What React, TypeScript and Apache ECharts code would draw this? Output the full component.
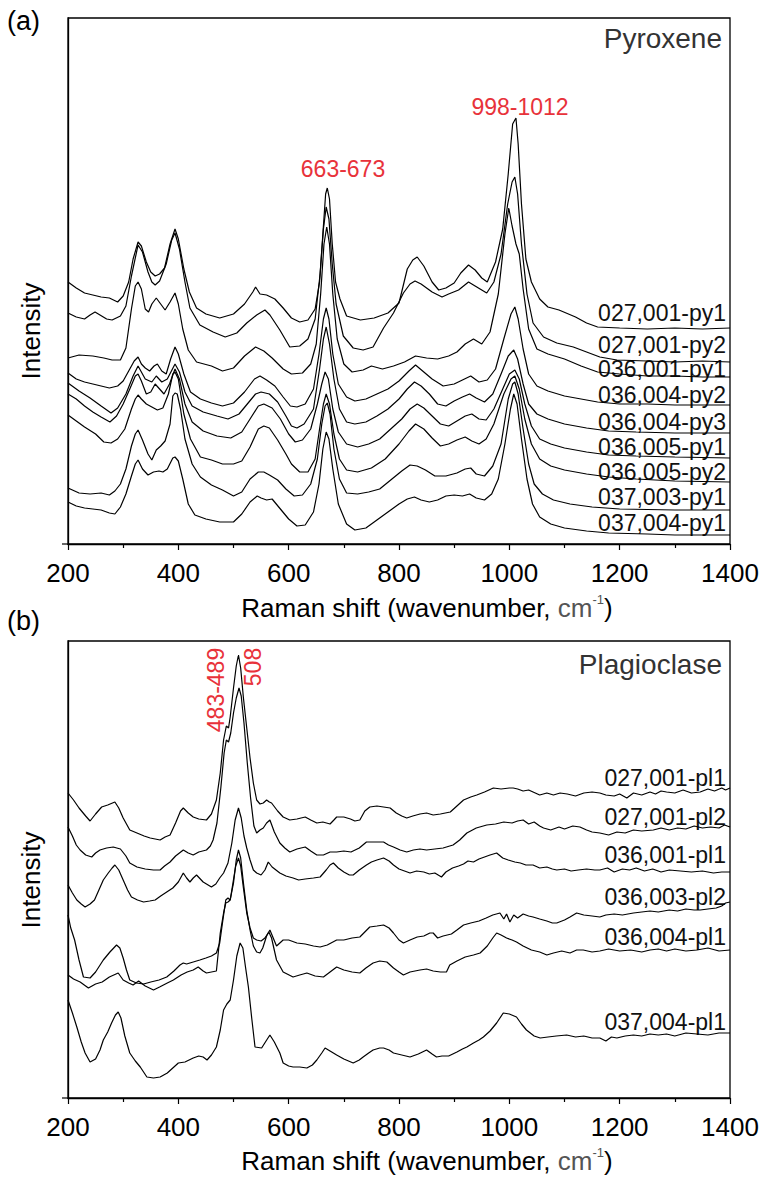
import React, { useEffect, useRef } from "react";
import * as echarts from "echarts";

// ---------- x axis ----------
const X_MIN = 200;
const X_MAX = 1400;
const X_STEP = 200;

// ---------- Pyroxene spectra (Raman shift, offset intensity) ----------
const py_027_001_py1 = [[200,262],[215,256],[230,251],[245,249],[260,247],[275,246],[290,242],[300,248],[310,262],[318,285],[327,302],[333,298],[342,282],[350,272],[358,268],[366,270],[375,276],[385,300],[394,315],[400,305],[410,275],[420,252],[433,236],[450,230],[475,226],[500,230],[520,240],[535,252],[540,257],[548,250],[560,249],[575,245],[590,236],[605,226],[620,222],[635,224],[648,235],[656,262],[662,310],[667,350],[670,356],[674,345],[679,300],[685,262],[693,245],[705,228],[730,224],[755,226],[780,231],[800,241],[815,275],[825,284],[833,287],[845,278],[860,262],[872,254],[885,256],[900,261],[912,271],[926,279],[938,274],[950,266],[960,262],[975,282],[988,315],[998,370],[1006,420],[1012,426],[1016,400],[1022,340],[1030,285],[1040,262],[1055,245],[1070,237],[1090,234],[1120,227],[1140,221],[1160,217],[1200,216],[1250,215],[1300,216],[1350,215],[1400,216]];
const py_027_001_py2 = [[200,231],[215,227],[230,225],[240,229],[249,232],[258,229],[270,225],[280,224],[295,228],[305,238],[315,268],[327,299],[335,292],[345,272],[352,262],[358,259],[366,263],[378,280],[388,304],[394,311],[402,295],[412,262],[421,236],[439,219],[463,212],[485,207],[506,211],[524,221],[542,229],[557,234],[566,229],[584,214],[602,197],[620,198],[635,205],[648,225],[657,270],[663,315],[668,337],[673,325],[679,280],[686,240],[699,208],[717,196],[735,194],[753,197],[772,216],[790,231],[808,251],[820,260],[829,263],[840,260],[860,252],[878,247],[890,250],[908,254],[926,262],[941,257],[959,251],[972,262],[985,290],[997,340],[1005,362],[1010,367],[1015,350],[1022,300],[1032,250],[1043,221],[1062,207],[1086,201],[1116,197],[1140,192],[1164,187],[1195,184],[1250,183],[1300,182],[1350,183],[1400,182]];
const py_036_001_py1 = [[200,186],[220,189],[245,188],[265,186],[280,184],[295,184],[305,196],[315,235],[322,258],[327,262],[333,255],[340,235],[346,232],[352,240],[360,246],[368,240],[376,234],[385,242],[394,251],[400,240],[408,215],[418,194],[433,182],[460,178],[480,173],[500,176],[520,188],[540,197],[555,193],[570,186],[590,175],[605,170],[625,171],[640,180],[650,200],[658,250],[664,300],[669,317],[674,300],[680,250],[688,205],[700,180],[715,172],[735,174],[750,178],[770,175],[790,178],[810,182],[830,188],[850,186],[870,185],[890,188],[905,192],[920,200],[935,205],[950,200],[965,212],[980,250],[992,310],[999,336],[1005,318],[1012,300],[1018,290],[1025,255],[1035,215],[1050,195],[1070,190],[1100,185],[1130,178],[1160,172],[1200,170],[1250,168],[1300,168],[1350,167],[1400,167]];
const py_036_004_py2 = [[200,171],[215,165],[230,162],[245,160],[260,158],[275,156],[290,158],[300,163],[312,175],[320,183],[327,187],[333,180],[340,176],[348,173],[356,178],[362,180],[370,173],[378,170],[386,185],[394,197],[400,190],[410,170],[422,152],[440,145],[460,141],[480,138],[500,141],[520,152],[538,165],[548,168],[560,164],[575,158],[590,147],[603,138],[615,137],[630,140],[645,155],[655,190],[663,225],[668,236],[673,225],[680,190],[690,160],[705,147],[720,143],[740,145],[760,150],[780,155],[800,163],[818,173],[830,179],[845,172],[860,165],[880,158],[900,160],[915,164],[930,168],[945,162],[960,164],[975,175],[990,205],[1003,230],[1010,237],[1016,225],[1025,195],[1035,170],[1050,158],[1070,153],[1100,148],[1130,145],[1160,142],[1200,140],[1250,140],[1300,139],[1350,139],[1400,139]];
const py_036_004_py3 = [[200,161],[220,153],[240,146],[260,138],[278,131],[290,136],[305,150],[318,168],[327,178],[340,165],[352,162],[360,168],[370,162],[380,165],[394,180],[402,172],[412,152],[425,138],[445,132],[470,128],[490,125],[510,130],[525,140],[540,150],[550,152],[565,150],[580,142],[595,128],[605,118],[615,116],[628,120],[645,135],[656,175],[663,205],[668,217],[674,200],[682,165],[692,135],[705,122],[720,120],[740,122],[760,128],[780,135],[800,145],[815,155],[828,162],[840,158],[855,150],[870,140],[885,138],[900,143],[915,147],[928,150],[940,146],[955,142],[970,150],[985,170],[998,188],[1008,194],[1015,185],[1025,160],[1035,140],[1050,130],[1070,125],[1100,120],[1140,116],[1180,113],[1230,112],[1300,111],[1350,111],[1400,111]];
const py_036_005_py1 = [[200,150],[215,145],[230,138],[245,132],[260,127],[276,122],[288,128],[300,140],[312,155],[322,168],[327,170],[333,163],[342,150],[350,152],[358,160],[366,155],[374,150],[384,160],[394,175],[402,165],[412,140],[425,122],[445,113],[470,108],[495,106],[515,112],[530,125],[545,138],[555,140],[570,136],[585,125],[600,110],[612,102],[625,104],[640,115],[652,140],[660,160],[666,172],[672,165],[680,135],[690,112],[705,100],[725,97],[745,100],[765,105],[785,115],[805,125],[820,135],[833,140],[845,136],[860,128],[875,120],[890,118],[905,123],[920,128],[932,130],[945,125],[958,124],[972,135],[988,155],[1000,170],[1010,174],[1018,165],[1028,140],[1040,118],[1055,105],[1075,100],[1100,96],[1140,92],[1180,89],[1230,88],[1300,87],[1400,86]];
const py_036_005_py2 = [[200,129],[215,123],[230,117],[250,110],[265,102],[278,101],[290,105],[303,115],[315,135],[322,145],[327,149],[333,145],[342,140],[352,137],[362,134],[372,136],[382,150],[390,170],[394,172],[400,165],[410,130],[422,105],[440,87],[460,84],[480,80],[500,80],[515,83],[530,97],[545,115],[555,118],[565,116],[580,104],[595,90],[605,80],[620,72],[635,72],[648,85],[656,115],[663,140],[668,150],[674,140],[682,110],[692,85],[705,74],[725,72],[750,76],[775,85],[800,100],[818,113],[830,120],[845,115],[860,106],[875,98],[890,100],[905,104],[920,107],[932,103],[945,100],[958,105],[972,120],[990,150],[1003,165],[1010,168],[1018,155],[1028,125],[1040,100],[1055,85],[1075,78],[1100,74],[1140,70],[1180,67],[1230,65],[1300,63],[1400,62]];
const py_037_003_py1 = [[200,56],[220,51],[240,50],[260,51],[275,49],[285,53],[295,60],[305,75],[315,98],[322,110],[327,114],[335,104],[345,90],[352,84],[360,94],[368,98],[376,103],[385,120],[390,148],[394,151],[398,150],[404,135],[412,105],[425,80],[440,67],[460,59],[480,54],[500,48],[515,52],[530,65],[545,72],[555,72],[565,69],[580,64],[595,55],[610,48],[625,49],[640,60],[652,85],[660,120],[666,138],[670,141],[675,130],[682,95],[692,65],[705,51],[725,50],[745,52],[765,55],[785,64],[805,73],[820,79],[833,78],[848,74],[865,68],[885,68],[905,71],[920,75],[930,76],[940,70],[955,68],[970,78],[985,100],[998,145],[1006,160],[1010,162],[1016,150],[1025,115],[1035,80],[1045,60],[1060,50],[1080,44],[1110,40],[1150,37],[1200,35],[1300,34],[1400,34]];
const py_037_004_py1 = [[200,42],[215,38],[230,36],[245,35],[260,34],[275,31],[285,30],[295,37],[305,50],[315,68],[322,80],[327,84],[335,75],[345,69],[355,72],[365,73],[372,72],[380,75],[390,86],[394,87],[400,83],[408,65],[418,40],[430,29],[450,25],[475,22],[500,22],[515,30],[530,42],[543,48],[550,46],[560,44],[570,45],[585,35],[600,25],[615,18],[630,19],[645,32],[655,60],[662,95],[668,112],[673,105],[680,75],[690,40],[705,20],[720,14],[740,16],[760,24],[780,32],[800,40],[815,45],[828,47],[840,44],[855,42],[870,44],[885,48],[900,49],[915,48],[928,50],[940,46],[955,44],[968,50],[980,65],[992,100],[1002,135],[1008,150],[1014,140],[1022,105],[1032,65],[1042,40],[1055,27],[1075,20],[1100,16],[1140,13],[1180,11],[1250,10],[1300,9],[1400,9]];

// ---------- Plagioclase spectra ----------
const pl_027_001_pl1 = [[200,305],[210,298],[220,290],[232,282],[240,277],[250,284],[261,291],[272,293],[285,296],[292,290],[300,280],[312,268],[325,265],[338,262],[349,260],[358,259],[367,258],[376,261],[385,263],[395,275],[404,287],[409,290],[418,285],[427,281],[437,279],[451,278],[460,284],[469,298],[476,325],[482,358],[487,372],[491,370],[494,381],[500,410],[505,432],[509,443],[513,430],[518,400],[524,370],[530,340],[536,315],[542,298],[548,294],[554,295],[560,298],[565,296],[569,295],[580,287],[590,281],[602,278],[615,279],[630,281],[640,278],[651,275],[662,276],[675,274],[682,278],[687,281],[700,281],[712,279],[720,277],[729,278],[738,287],[747,291],[760,292],[772,291],[784,290],[795,285],[805,282],[814,280],[825,282],[838,284],[850,285],[862,283],[875,284],[893,286],[905,292],[917,298],[930,301],[941,303],[955,306],[971,310],[985,309],[1000,310],[1007,310],[1015,309],[1025,307],[1035,308],[1043,306],[1055,303],[1068,305],[1080,303],[1092,305],[1105,304],[1120,302],[1135,305],[1150,306],[1164,305],[1175,303],[1190,302],[1200,304],[1213,300],[1225,305],[1240,303],[1255,306],[1265,304],[1275,307],[1285,306],[1300,305],[1315,308],[1330,305],[1346,306],[1360,309],[1372,307],[1385,310],[1392,308],[1400,310]];
const pl_027_001_pl2 = [[200,271],[208,262],[215,253],[222,248],[232,243],[243,241],[250,245],[258,248],[270,250],[282,251],[295,249],[305,242],[312,235],[325,231],[340,229],[355,228],[367,228],[375,232],[385,236],[395,242],[409,248],[418,245],[427,243],[437,246],[451,248],[458,252],[463,258],[470,275],[477,310],[483,345],[487,358],[491,356],[495,365],[500,385],[505,400],[510,410],[514,402],[519,375],[525,335],[531,300],[537,272],[542,265],[548,268],[554,270],[560,275],[566,278],[574,266],[584,255],[593,250],[602,246],[615,249],[630,251],[640,247],[651,243],[663,243],[675,246],[687,246],[700,247],[713,246],[728,250],[741,256],[756,256],[772,256],[781,253],[790,251],[802,248],[814,246],[826,248],[838,249],[850,248],[865,249],[880,250],[898,253],[910,258],[923,265],[940,270],[959,273],[975,274],[990,276],[1005,275],[1015,277],[1025,278],[1035,274],[1045,276],[1055,272],[1062,270],[1075,268],[1090,271],[1100,269],[1115,272],[1128,271],[1140,268],[1150,266],[1164,265],[1180,263],[1195,266],[1210,265],[1225,268],[1240,267],[1261,268],[1275,270],[1290,268],[1305,270],[1320,269],[1335,272],[1350,270],[1365,271],[1380,270],[1390,273],[1400,271]];
const pl_036_001_pl1 = [[200,213],[208,205],[216,198],[224,194],[231,191],[240,194],[248,198],[256,208],[264,218],[273,225],[280,230],[285,233],[292,228],[300,218],[308,208],[315,201],[326,198],[337,196],[348,197],[358,198],[368,202],[379,206],[390,210],[400,216],[409,225],[415,220],[421,216],[427,220],[433,223],[445,216],[460,211],[468,214],[475,220],[482,225],[490,235],[497,255],[503,278],[509,290],[514,280],[519,262],[524,250],[530,238],[536,228],[542,225],[550,223],[557,228],[563,236],[570,231],[577,228],[584,225],[595,222],[608,220],[618,218],[630,219],[645,220],[657,221],[668,228],[675,233],[681,235],[690,230],[700,226],[710,223],[717,223],[728,228],[741,233],[750,236],[760,238],[772,240],[782,237],[790,233],[800,229],[810,227],[820,225],[832,227],[845,226],[855,224],[865,225],[877,221],[885,226],[897,230],[908,232],[917,234],[925,237],[935,236],[945,239],[955,241],[965,243],[977,245],[988,240],[998,238],[1010,236],[1020,235],[1030,233],[1043,233],[1055,230],[1068,231],[1078,229],[1086,228],[1100,229],[1112,227],[1125,228],[1140,229],[1155,228],[1164,228],[1178,230],[1190,226],[1205,229],[1218,228],[1230,230],[1245,227],[1260,229],[1275,226],[1290,228],[1310,227],[1330,226],[1350,227],[1370,225],[1385,226],[1400,226]];
const pl_036_003_pl2 = [[200,183],[205,170],[212,158],[220,138],[228,121],[240,120],[250,126],[264,138],[276,146],[288,153],[294,150],[300,140],[306,128],[312,118],[324,115],[337,114],[350,116],[365,118],[379,121],[392,127],[403,133],[409,135],[415,134],[427,136],[439,138],[450,140],[460,142],[469,145],[475,155],[480,175],[486,198],[490,200],[494,198],[500,215],[505,238],[509,248],[513,240],[518,215],[524,188],[530,168],[536,152],[542,146],[548,145],[553,150],[560,162],[566,168],[572,160],[578,152],[590,158],[600,158],[615,155],[630,154],[645,152],[657,151],[670,153],[687,158],[700,158],[715,160],[729,161],[738,166],[747,171],[760,172],[772,173],[782,170],[790,165],[800,158],[808,155],[820,158],[833,161],[845,162],[856,165],[862,165],[870,160],[880,162],[895,164],[905,168],[917,173],[930,175],[945,177],[958,180],[970,183],[983,185],[990,179],[995,184],[1001,176],[1008,183],[1015,180],[1025,184],[1035,182],[1043,181],[1055,179],[1068,177],[1078,175],[1086,175],[1100,178],[1110,181],[1122,185],[1135,183],[1150,182],[1164,181],[1175,183],[1190,184],[1205,183],[1225,185],[1240,186],[1255,187],[1270,186],[1290,188],[1305,187],[1320,189],[1335,188],[1346,188],[1360,189],[1375,190],[1385,192],[1392,195],[1400,196]];
const pl_036_004_pl1 = [[200,123],[210,119],[222,116],[237,110],[250,114],[262,116],[275,121],[291,125],[300,118],[310,115],[318,113],[328,117],[340,112],[355,108],[366,111],[380,115],[391,118],[405,123],[416,126],[427,128],[436,131],[445,127],[451,125],[460,126],[469,127],[476,165],[482,185],[486,195],[490,196],[494,198],[499,215],[504,232],[509,240],[513,232],[518,210],[524,185],[530,170],[536,160],[542,158],[550,157],[557,160],[564,166],[569,160],[578,138],[590,126],[608,121],[620,123],[633,125],[648,122],[663,121],[675,126],[687,131],[700,128],[715,126],[729,125],[740,130],[753,135],[765,137],[778,136],[790,130],[800,126],[808,123],[820,126],[838,128],[850,129],[862,127],[875,126],[886,126],[892,133],[905,137],[920,141],[935,143],[947,145],[960,152],[970,160],[977,165],[985,163],[995,160],[1005,158],[1013,156],[1025,152],[1040,148],[1055,146],[1068,143],[1080,145],[1095,147],[1110,145],[1122,148],[1134,148],[1150,146],[1164,147],[1180,149],[1200,147],[1220,148],[1240,146],[1255,148],[1270,149],[1285,147],[1300,149],[1320,147],[1340,148],[1360,150],[1380,147],[1400,148]];
const pl_037_004_pl1 = [[200,98],[208,85],[216,71],[224,56],[231,45],[240,36],[250,39],[258,48],[264,58],[272,66],[279,75],[286,83],[291,86],[296,80],[303,62],[312,45],[322,37],[331,31],[343,21],[355,20],[367,21],[380,25],[392,31],[400,35],[412,36],[427,40],[437,42],[445,41],[452,38],[460,43],[469,51],[476,68],[482,88],[488,94],[494,98],[500,118],[506,142],[512,155],[517,150],[522,130],[527,111],[533,80],[539,51],[551,50],[559,57],[566,63],[574,56],[584,45],[590,35],[600,32],[608,31],[620,31],[633,30],[643,33],[651,38],[660,45],[666,50],[675,47],[687,43],[700,39],[717,35],[728,38],[735,41],[745,45],[753,48],[765,50],[772,50],[782,48],[790,45],[805,43],[820,41],[835,44],[850,48],[860,44],[868,41],[878,42],[890,42],[905,46],[915,49],[923,51],[935,55],[945,58],[953,61],[965,67],[977,75],[989,85],[1000,84],[1013,81],[1022,74],[1031,68],[1045,62],[1056,60],[1070,61],[1085,62],[1104,63],[1120,61],[1135,62],[1150,60],[1164,60],[1175,57],[1185,61],[1195,60],[1210,62],[1225,63],[1240,62],[1255,64],[1270,63],[1285,64],[1300,62],[1320,65],[1340,64],[1360,63],[1380,65],[1400,65]];

const pyroxeneSeries = [py_027_001_py1, py_027_001_py2, py_036_001_py1, py_036_004_py2, py_036_004_py3, py_036_005_py1, py_036_005_py2, py_037_003_py1, py_037_004_py1];
const pyroxeneNames = ["027,001-py1", "027,001-py2", "036,001-py1", "036,004-py2", "036,004-py3", "036,005-py1", "036,005-py2", "037,003-py1", "037,004-py1"];
const plagioclaseSeries = [pl_027_001_pl1, pl_027_001_pl2, pl_036_001_pl1, pl_036_003_pl2, pl_036_004_pl1, pl_037_004_pl1];
const plagioclaseNames = ["027,001-pl1", "027,001-pl2", "036,001-pl1", "036,003-pl2", "036,004-pl1", "037,004-pl1"];

const Y_MAX_TOP = 526;
const Y_MAX_BOTTOM = 457;

// label placement (pixels)
const pyLabelY = [313, 345, 369, 395, 422, 447, 472, 497, 523];
const plLabelY = [778, 817, 855, 897, 937, 1022];

const SANS = "'Liberation Sans', Arial, sans-serif";
const RED = "#e8323a";

export default function App() {
  const ref = useRef<HTMLDivElement>(null);
  useEffect(() => {
    const chart = echarts.init(ref.current!, null, { renderer: "svg" });
    const grids = [
      { left: 68, top: 18, width: 662, height: 526 },
      { left: 68, top: 641, width: 662, height: 457 },
    ];
    const xAxisBase = (gi: number) => ({
      type: "value",
      gridIndex: gi,
      min: X_MIN,
      max: X_MAX,
      interval: X_STEP,
      axisLine: { show: true, onZero: false, lineStyle: { color: "#000", width: 1.3 } },
      axisTick: { show: true, inside: false, length: 6, lineStyle: { color: "#000", width: 1.2 } },
      minorTick: { show: true, splitNumber: 2, length: 4, lineStyle: { color: "#000", width: 1.2 } },
      axisLabel: { color: "#000", fontSize: 26, fontFamily: SANS, margin: 16, formatter: (v: number) => String(v) },
      splitLine: { show: false },
      minorSplitLine: { show: false },
    });
    const yAxisBase = (gi: number, max: number) => ({
      type: "value",
      gridIndex: gi,
      min: 0,
      max,
      axisLine: { show: true, onZero: false, lineStyle: { color: "#000", width: 1.3 } },
      axisTick: { show: false },
      axisLabel: { show: false },
      splitLine: { show: false },
    });
    const series: any[] = [];
    pyroxeneSeries.forEach((d, i) =>
      series.push({
        type: "line", name: pyroxeneNames[i], xAxisIndex: 0, yAxisIndex: 0, data: d,
        symbol: "none", silent: true, lineStyle: { color: "#000", width: 1.2 },
      })
    );
    plagioclaseSeries.forEach((d, i) =>
      series.push({
        type: "line", name: plagioclaseNames[i], xAxisIndex: 1, yAxisIndex: 1, data: d,
        symbol: "none", silent: true, lineStyle: { color: "#000", width: 1.2 },
      })
    );

    const text = (x: number, y: number, t: string, size: number, fill: string, align = "right", extra: any = {}) => ({
      type: "text", x, y, ...extra,
      style: { text: t, fontSize: size, fontFamily: SANS, fill, align, verticalAlign: "middle" },
    });
    const xTitle = (y: number) => ({
      type: "text", x: 427, y,
      style: {
        text: "{a|Raman shift (wavenumber, }{b|cm}{s|-1}{a|)}",
        align: "center", verticalAlign: "middle",
        rich: {
          a: { fontSize: 26, fontFamily: SANS, fill: "#000", lineHeight: 30 },
          b: { fontSize: 26, fontFamily: SANS, fill: "#555", lineHeight: 30 },
          s: { fontSize: 13, fontFamily: SANS, fill: "#555", verticalAlign: "top", lineHeight: 30 },
        },
      },
    });
    const graphic: any[] = [
      text(7, 21, "(a)", 27, "#000", "left"),
      text(7, 621, "(b)", 27, "#000", "left"),
      text(722, 38, "Pyroxene", 28, "#333"),
      text(722, 664, "Plagioclase", 28, "#333"),
      text(343, 169, "663-673", 23, RED, "center"),
      text(520, 107, "998-1012", 23, RED, "center"),
      text(216, 690, "483-489", 23, RED, "center", { rotation: Math.PI / 2 }),
      text(253, 667, "508", 23, RED, "center", { rotation: Math.PI / 2 }),
      text(31, 331, "Intensity", 26, "#000", "center", { rotation: Math.PI / 2 }),
      text(31, 880, "Intensity", 26, "#000", "center", { rotation: Math.PI / 2 }),
      xTitle(608),
      xTitle(1161),
      { type: "line", shape: { x1: 62, y1: 544, x2: 68, y2: 544 }, style: { stroke: "#000", lineWidth: 1.2 } },
      { type: "line", shape: { x1: 62, y1: 1098, x2: 68, y2: 1098 }, style: { stroke: "#000", lineWidth: 1.2 } },
    ];
    pyroxeneNames.forEach((n, i) => graphic.push(text(726, pyLabelY[i], n, 23, "#111")));
    plagioclaseNames.forEach((n, i) => graphic.push(text(726, plLabelY[i], n, 23, "#111")));

    chart.setOption({
      animation: false,
      backgroundColor: "#fff",
      grid: grids.map((g) => ({ ...g, show: true, borderColor: "#000", borderWidth: 1.3, backgroundColor: "transparent" })),
      xAxis: [xAxisBase(0), xAxisBase(1)],
      yAxis: [yAxisBase(0, Y_MAX_TOP), yAxisBase(1, Y_MAX_BOTTOM)],
      series,
      graphic,
    });
    return () => chart.dispose();
  }, []);
  return (
    <div
      ref={ref}
      style={{ position: "fixed", left: 0, top: 0, width: 768, height: 1184, background: "#fff" }}
    />
  );
}
